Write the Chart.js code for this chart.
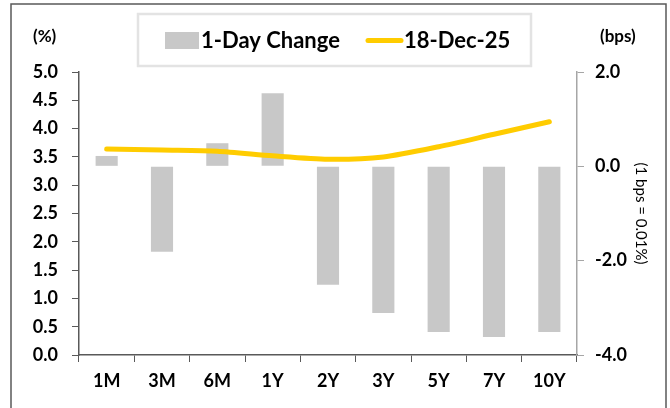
<!DOCTYPE html>
<html>
<head>
<meta charset="utf-8">
<script src="https://cdn.jsdelivr.net/npm/chart.js@4/dist/chart.umd.min.js"></script>
<style>
  html, body { margin: 0; padding: 0; background: #fff; }
  #wrap { width: 670px; height: 408px; position: relative; }
</style>
</head>
<body>
<div id="wrap"><canvas id="curve" width="670" height="408"></canvas></div>
<script>
// tenors on the x axis
const tenors = ['1M', '3M', '6M', '1Y', '2Y', '3Y', '5Y', '7Y', '10Y'];
// 1-day change in bps (right axis)
const dayChange = [0.22, -1.81, 0.49, 1.55, -2.51, -3.11, -3.51, -3.62, -3.51];
// yield on 18-Dec-25 in % (left axis)
const yield18Dec = [3.64, 3.62, 3.60, 3.52, 3.46, 3.50, 3.68, 3.90, 4.12];

const leftTicks = { min: 0, max: 5, step: 0.5 };
const rightTicks = { min: -4, max: 2, step: 2 };

const tickFont = { family: 'Lato', size: 18, weight: 'bold' };

// frame, legend box and unit labels
const extras = {
    id: 'extras',
    afterDraw(chart) {
        const ctx = chart.ctx;
        ctx.save();
        // outer frame
        ctx.strokeStyle = '#595959';
        ctx.lineWidth = 1.5;
        ctx.strokeRect(11, 4, 655, 440);

        // legend box
        ctx.fillStyle = '#fff';
        ctx.fillRect(138, 14, 393, 52);
        ctx.strokeStyle = '#e3e3e3';
        ctx.lineWidth = 2.5;
        ctx.strokeRect(138, 14, 393, 52);

        const bars = chart.data.datasets[0];
        const line = chart.data.datasets[1];
        ctx.fillStyle = bars.backgroundColor;
        ctx.fillRect(165, 32, 34, 17);
        ctx.strokeStyle = line.borderColor;
        ctx.lineWidth = 5;
        ctx.lineCap = 'round';
        ctx.beginPath();
        ctx.moveTo(368, 40.5);
        ctx.lineTo(401, 40.5);
        ctx.stroke();

        ctx.fillStyle = '#000';
        ctx.font = 'bold 22px Lato';
        ctx.textBaseline = 'middle';
        ctx.textAlign = 'left';
        ctx.fillText(bars.label, 201, 41);
        ctx.fillText(line.label, 404, 41);

        // unit labels
        ctx.font = 'bold 17px Lato';
        ctx.fillText('(%)', 33, 37);
        ctx.fillText('(bps)', 600, 37);
        ctx.restore();
    }
};

new Chart(document.getElementById('curve'), {
    data: {
        labels: tenors,
        datasets: [
            {
                type: 'bar',
                label: '1-Day Change',
                data: dayChange,
                yAxisID: 'y1',
                backgroundColor: '#c8c8c8',
                borderWidth: 0,
                barPercentage: 0.4,
                categoryPercentage: 1.0,
                order: 2
            },
            {
                type: 'line',
                label: '18-Dec-25',
                data: yield18Dec,
                yAxisID: 'y',
                borderColor: '#ffcc00',
                backgroundColor: '#ffcc00',
                borderWidth: 5,
                borderCapStyle: 'round',
                pointRadius: 0,
                tension: 0.25,
                order: 1
            }
        ]
    },
    options: {
        responsive: false,
        animation: false,
        layout: { padding: { top: 72, left: 0, right: 0, bottom: 0 } },
        plugins: {
            legend: { display: false },
            tooltip: { enabled: false }
        },
        scales: {
            x: {
                offset: true,
                grid: {
                    offset: true,
                    drawOnChartArea: false,
                    tickLength: 7,
                    color: '#595959'
                },
                border: { color: '#595959', width: 1.5 },
                ticks: { font: tickFont, color: '#000', padding: 8, maxRotation: 0 },
                afterFit(s) { s.height = 53; }
            },
            y: {
                position: 'left',
                min: leftTicks.min,
                max: leftTicks.max,
                grid: { drawOnChartArea: false, tickLength: 7, color: '#595959' },
                border: { color: '#595959', width: 1.5 },
                ticks: {
                    stepSize: leftTicks.step,
                    font: tickFont,
                    color: '#000',
                    padding: 14,
                    callback: v => v.toFixed(1)
                },
                afterFit(s) { s.width = 79; }
            },
            y1: {
                position: 'right',
                min: rightTicks.min,
                max: rightTicks.max,
                grid: { drawOnChartArea: false, tickLength: 7, color: '#a6a6a6' },
                border: { color: '#a6a6a6', width: 1.5 },
                ticks: {
                    stepSize: rightTicks.step,
                    font: tickFont,
                    color: '#000',
                    padding: 11,
                    callback: v => v.toFixed(1)
                },
                title: {
                    display: true,
                    text: '(1 bps = 0.01%)',
                    font: { family: 'Lato', size: 15 },
                    color: '#000',
                    padding: { top: 20, bottom: 0 }
                },
                afterFit(s) { s.width = 93; }
            }
        }
    },
    plugins: [extras]
});
</script>
</body>
</html>
